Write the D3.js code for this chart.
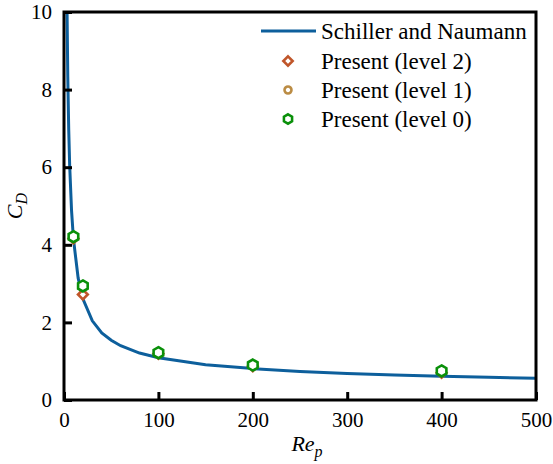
<html>
<head>
<script src="https://d3js.org/d3.v7.min.js"></script>
</head>
<body style="margin:0">
<svg id="chart" width="553" height="464" font-family="Liberation Serif"></svg>
<script>
// Schiller and Naumann curve
const curveRe = [1, 2, 3, 4, 5, 6, 8, 10, 15, 20, 30, 40, 50, 60, 80, 100, 150, 200, 250, 300, 350, 400, 450, 500];
const curveCd = [28.0, 14.9, 10.55, 8.33, 6.97, 6.05, 4.88, 4.15, 3.14, 2.61, 2.04, 1.73, 1.54, 1.40, 1.21, 1.09, 0.91, 0.81, 0.735, 0.68, 0.645, 0.61, 0.585, 0.56];

// simulation points
const pointRe = [10, 20, 100, 200, 400];
const level2Cd = [4.16, 2.72, 1.19, 0.87, 0.70];
const level1Cd = [4.20, 2.93, 1.21, 0.89, 0.74];
const level0Cd = [4.21, 2.94, 1.22, 0.90, 0.75];

const xTicks = [0, 100, 200, 300, 400, 500];
const yTicks = [0, 2, 4, 6, 8, 10];

const legendLabels = ["Schiller and Naumann", "Present (level 2)", "Present (level 1)", "Present (level 0)"];

const FONT = "Liberation Serif";
const svg = d3.select("#chart");
const margin = { top: 12, right: 17, bottom: 64, left: 64 };
const width = 553 - margin.left - margin.right;
const height = 464 - margin.top - margin.bottom;

const x = d3.scaleLinear().domain([0, 500]).range([0, width]);
const y = d3.scaleLinear().domain([0, 10]).range([height, 0]);

const g = svg.append("g").attr("transform", `translate(${margin.left},${margin.top})`);

g.append("clipPath").attr("id", "plotclip")
  .append("rect").attr("width", width).attr("height", height);

// curve
const curve = curveRe.map((r, i) => ({ re: r, cd: curveCd[i] }));
g.append("path")
  .datum(curve)
  .attr("clip-path", "url(#plotclip)")
  .attr("fill", "none")
  .attr("stroke", "#0d5f9c")
  .attr("stroke-width", 3)
  .attr("d", d3.line().x(d => x(d.re)).y(d => y(d.cd)));

// markers
const hexagon = "M0,-5.5L4.8,-2.75L4.8,2.75L0,5.5L-4.8,2.75L-4.8,-2.75Z";

function drawPoints(cds, shape, color) {
  g.append("g").selectAll("path")
    .data(pointRe.map((r, i) => ({ re: r, cd: cds[i] })))
    .join("path")
    .attr("transform", d => `translate(${x(d.re)},${y(d.cd)})`)
    .attr("d", shape)
    .attr("fill", "#fff")
    .attr("stroke", color)
    .attr("stroke-width", 2.6);
}
drawPoints(level2Cd, d3.symbol().type(d3.symbolDiamond2).size(60)(), "#c0562a");
drawPoints(level1Cd, d3.symbol().type(d3.symbolCircle).size(55)(), "#bb8c44");
drawPoints(level0Cd, hexagon, "#0a900a");

// frame
g.append("rect").attr("width", width).attr("height", height)
  .attr("fill", "none").attr("stroke", "#000").attr("stroke-width", 3);

// axes, ticks inward
const xAxis = g.append("g").attr("transform", `translate(0,${height})`)
  .call(d3.axisBottom(x).tickValues(xTicks).tickSize(-8).tickPadding(12));
const yAxis = g.append("g")
  .call(d3.axisLeft(y).tickValues(yTicks).tickSize(-8).tickPadding(12));
[xAxis, yAxis].forEach(a => {
  a.attr("font-family", FONT).attr("font-size", 21);
  a.select(".domain").remove();
  a.selectAll("line").attr("stroke-width", 3);
  a.selectAll("text").attr("fill", "#000").attr("font-family", FONT);
});

// axis titles
svg.append("text")
  .attr("x", 307).attr("y", 451)
  .attr("text-anchor", "middle")
  .attr("font-family", FONT)
  .attr("font-size", 22).attr("font-style", "italic")
  .html('Re<tspan font-size="16" dy="6">p</tspan>');

svg.append("text")
  .attr("transform", "translate(22,206) rotate(-90)")
  .attr("text-anchor", "middle")
  .attr("font-family", FONT)
  .attr("font-size", 22).attr("font-style", "italic")
  .html('C<tspan font-size="16" dy="5">D</tspan>');

// legend
const legend = svg.append("g");
const rowY = [31, 61, 90, 119];
legend.append("line")
  .attr("x1", 261).attr("x2", 316).attr("y1", rowY[0]).attr("y2", rowY[0])
  .attr("stroke", "#0d5f9c").attr("stroke-width", 3);
legend.append("path").attr("transform", `translate(288,${rowY[1]})`)
  .attr("d", d3.symbol().type(d3.symbolDiamond2).size(55)())
  .attr("fill", "#fff").attr("stroke", "#c0562a").attr("stroke-width", 2.6);
legend.append("path").attr("transform", `translate(288,${rowY[2]})`)
  .attr("d", d3.symbol().type(d3.symbolCircle).size(38)())
  .attr("fill", "#fff").attr("stroke", "#bb8c44").attr("stroke-width", 2.6);
legend.append("path").attr("transform", `translate(288,${rowY[3]}) scale(0.85)`).attr("d", hexagon)
  .attr("fill", "#fff").attr("stroke", "#0a900a").attr("stroke-width", 3);
legend.selectAll("text.lab").data(legendLabels).join("text")
  .attr("class", "lab")
  .attr("x", 321).attr("y", (d, i) => rowY[i] + 8)
  .attr("font-family", FONT)
  .attr("font-size", 23)
  .text(d => d);
</script>
</body>
</html>
